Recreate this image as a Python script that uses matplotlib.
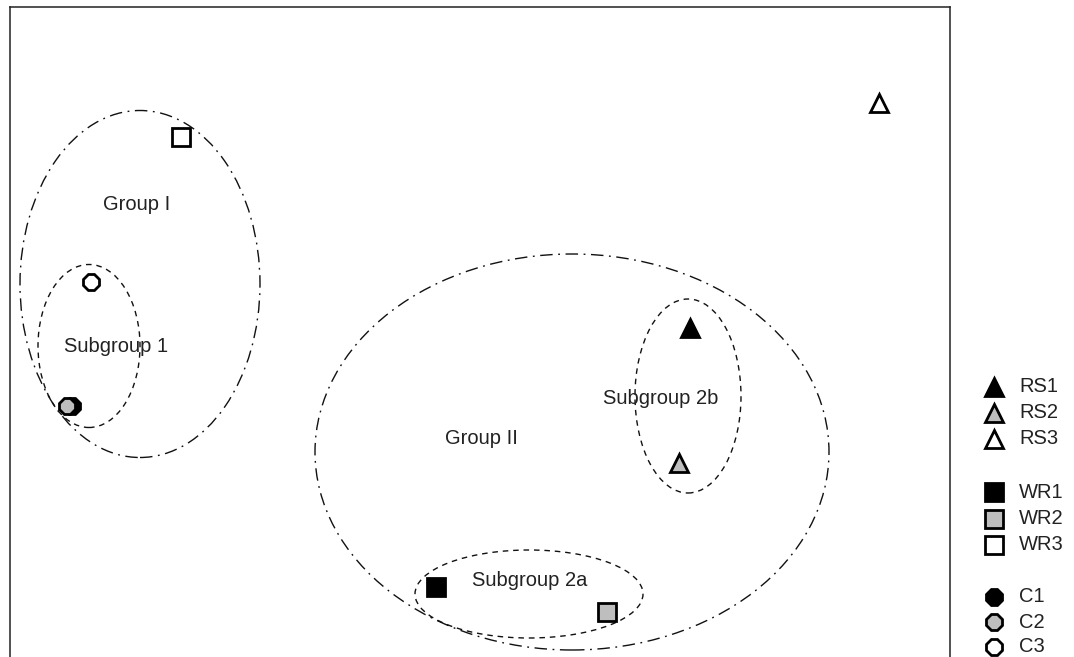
import matplotlib
matplotlib.use('Agg')
import matplotlib.pyplot as plt
from matplotlib.patches import Ellipse

plt.rcParams['font.family'] = ['Liberation Sans', 'DejaVu Sans']

# sample scores on the two ordination axes (plot units)
labels = ['RS1', 'RS2', 'RS3', 'WR1', 'WR2', 'WR3', 'C1', 'C2', 'C3']
dim1 = [690, 679, 879, 436, 607, 181, 72, 67, 91]
dim2 = [329, 194, 554, 70, 45, 520, 251, 251, 375]
markers = ['^', '^', '^', 's', 's', 's', '8', '8', '8']
fills = ['black', '#bebebe', 'white'] * 3

# grouping ellipses: name, centre x, centre y, width, height, kind
groups = ['Group I', 'Subgroup 1', 'Group II', 'Subgroup 2b', 'Subgroup 2a']
grp_x = [140, 89, 572, 688, 529]
grp_y = [373, 311, 205, 261, 63]
grp_w = [240, 102, 514, 106, 228]
grp_h = [347, 163, 396, 194, 88]
grp_kind = ['group', 'sub', 'group', 'sub', 'sub']
# where the group names are written
txt_x = [137, 116, 481, 661, 530]
txt_y = [452, 311, 219, 259, 76]

fig = plt.figure(figsize=(10.74, 6.57), dpi=100)
ax = fig.add_axes([10 / 1074, -50 / 657, 940 / 1074, 700 / 657])
ax.set_xlim(10, 950)
ax.set_ylim(-50, 650)
ax.set_xticks([])
ax.set_yticks([])
for s in ax.spines.values():
    s.set_linewidth(1.1)
    s.set_color('#222222')

for i in range(len(groups)):
    if grp_kind[i] == 'group':
        ls = (0, (9, 4, 1.3, 4))
    else:
        ls = (0, (4, 3.5))
    e = Ellipse((grp_x[i], grp_y[i]), grp_w[i], grp_h[i], fill=False,
                edgecolor='#111111', linewidth=1.0, linestyle=ls)
    ax.add_patch(e)
    ax.text(txt_x[i], txt_y[i], groups[i], ha='center', va='center',
            fontsize=14.5, color='#222222')

# C2 drawn on top of C1
for i in range(len(labels)):
    ax.plot(dim1[i], dim2[i], marker=markers[i], markersize=12.5,
            markerfacecolor=fills[i], markeredgecolor='black',
            markeredgewidth=2, linestyle='none', zorder=3 + (i == 7))

# legend drawn in figure pixel space
leg = fig.add_axes([0, 0, 1, 1])
leg.set_xlim(0, 1074)
leg.set_ylim(657, 0)
leg.axis('off')
leg_y = [387, 413, 439, 492, 519, 545, 597, 622, 647]
for i in range(len(labels)):
    leg.plot(994, leg_y[i], marker=markers[i], markersize=12.5,
             markerfacecolor=fills[i], markeredgecolor='black',
             markeredgewidth=2, linestyle='none')
    leg.text(1019, leg_y[i], labels[i], ha='left', va='center',
             fontsize=14.5, color='#222222')

fig.savefig('out.png', dpi=100)
